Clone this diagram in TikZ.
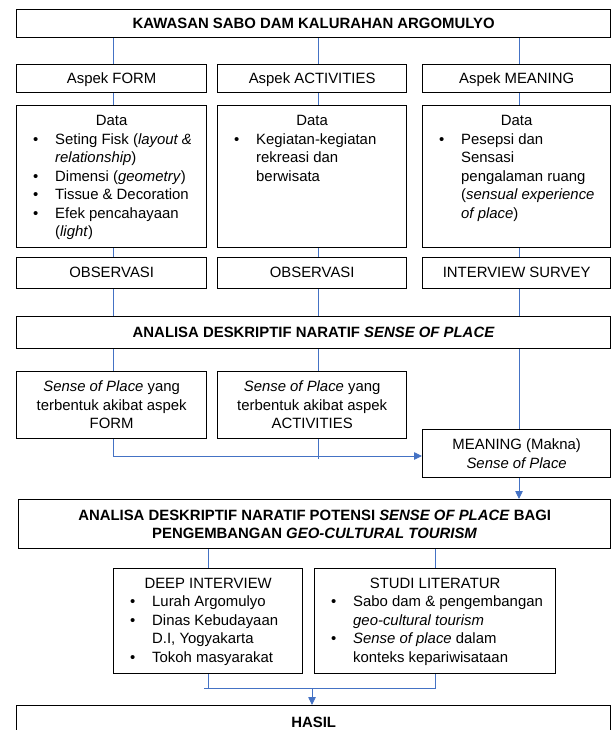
\documentclass[tikz,border=0pt]{standalone}
\usepackage{fontspec}
\setmainfont{Liberation Sans}
\usetikzlibrary{arrows.meta}
\definecolor{lnblue}{RGB}{68,114,196}
\newcommand{\myfs}{\fontsize{14.9}{18.5}\selectfont}
\newcommand{\bitem}{\makebox[22pt][l]{\textbullet}}
\newcommand{\bcont}{\hspace*{22pt}}
\begin{document}
\begin{tikzpicture}[x=1pt,y=1pt,
  box/.style={draw=black, line width=1.3pt, inner sep=0pt, anchor=north west, align=center, font=\myfs},
  one/.style={text height=10.5pt, text depth=1pt},
  txt/.style={inner sep=0pt, font=\myfs},
  conn/.style={draw=lnblue, line width=0.8pt},
  arr/.style={conn, -{Triangle[length=8pt,width=7.5pt]}}]
\useasboundingbox (0,0) rectangle (611,-730);

\coordinate (xa) at (113,0);
\coordinate (xb) at (318,0);
\coordinate (xc) at (519,0);
\coordinate (ay) at (0,-456);
\coordinate (mrg) at (312,-688);

% top
\node[box, one, minimum width=594, minimum height=28, font=\myfs\bfseries] (top) at (16,-9) {KAWASAN SABO DAM KALURAHAN ARGOMULYO};

% aspek
\node[box, one, minimum width=190, minimum height=28] (aF) at (16,-64) {Aspek FORM};
\node[box, one, minimum width=189, minimum height=28] (aA) at (217,-64) {Aspek ACTIVITIES};
\node[box, one, minimum width=188, minimum height=28] (aM) at (422,-64) {Aspek MEANING};

% data
\node[box, minimum width=190, minimum height=142] (dF) at (16,-105) {};
\node[box, minimum width=189, minimum height=142] (dA) at (217,-105) {};
\node[box, minimum width=188, minimum height=142] (dM) at (422,-105) {};
\node[txt, anchor=base] (dFh) at ([yshift=-21pt]dF.north) {Data};
\node[txt, anchor=base] (dAh) at ([yshift=-21pt]dA.north) {Data};
\node[txt, anchor=base] (dMh) at ([yshift=-21pt]dM.north) {Data};
\node[txt, anchor=base west] (dFb) at ([xshift=17pt,yshift=-39.5pt]dF.north west) {\begin{tabular}[t]{@{}l@{}}
\bitem Seting Fisk (\textit{layout \&}\\
\bcont\textit{relationship})\\
\bitem Dimensi (\textit{geometry})\\
\bitem Tissue \& Decoration\\
\bitem Efek pencahayaan\\
\bcont(\textit{light})
\end{tabular}};
\node[txt, anchor=base west] (dAb) at ([xshift=17pt,yshift=-39.5pt]dA.north west) {\begin{tabular}[t]{@{}l@{}}
\bitem Kegiatan-kegiatan\\
\bcont rekreasi dan\\
\bcont berwisata
\end{tabular}};
\node[txt, anchor=base west] (dMb) at ([xshift=17pt,yshift=-39.5pt]dM.north west) {\begin{tabular}[t]{@{}l@{}}
\bitem Pesepsi dan\\
\bcont Sensasi\\
\bcont pengalaman ruang\\
\bcont(\textit{sensual experience}\\
\bcont\textit{of place})
\end{tabular}};

% observasi
\node[box, one, minimum width=190, minimum height=31] (oF) at (16,-257) {OBSERVASI};
\node[box, one, minimum width=189, minimum height=31] (oA) at (217,-257) {OBSERVASI};
\node[box, one, minimum width=188, minimum height=31] (oM) at (422,-257) {INTERVIEW SURVEY};

% analisa
\node[box, one, minimum width=594, minimum height=32, font=\myfs\bfseries] (an) at (16,-316) {ANALISA DESKRIPTIF NARATIF \textit{SENSE OF PLACE}};

% sense boxes
\node[box, minimum width=190, minimum height=67] (sF) at (16,-371) {\textit{Sense of Place} yang\\terbentuk akibat aspek\\FORM};
\node[box, minimum width=189, minimum height=67] (sA) at (217,-371) {\textit{Sense of Place} yang\\terbentuk akibat aspek\\ACTIVITIES};
\node[box, minimum width=188, minimum height=48] (mean) at (422,-429) {MEANING (Makna)\\\textit{Sense of Place}};

% potensi
\node[box, minimum width=592, minimum height=49, font=\myfs\bfseries] (pot) at (18,-499) {ANALISA DESKRIPTIF NARATIF POTENSI \textit{SENSE OF PLACE} BAGI\\PENGEMBANGAN \textit{GEO-CULTURAL TOURISM}};

% deep / studi
\node[box, minimum width=189, minimum height=105] (dI) at (113,-568) {};
\node[box, minimum width=241, minimum height=105] (sL) at (314,-568) {};
\node[txt, anchor=base] (dIh) at ([yshift=-20pt]dI.north) {DEEP INTERVIEW};
\node[txt, anchor=base] (sLh) at ([yshift=-20pt]sL.north) {STUDI LITERATUR};
\node[txt, anchor=base west] (dIb) at ([xshift=17pt,yshift=-38.5pt]dI.north west) {\begin{tabular}[t]{@{}l@{}}
\bitem Lurah Argomulyo\\
\bitem Dinas Kebudayaan\\
\bcont D.I, Yogyakarta\\
\bitem Tokoh masyarakat
\end{tabular}};
\node[txt, anchor=base west] (sLb) at ([xshift=17pt,yshift=-38.5pt]sL.north west) {\begin{tabular}[t]{@{}l@{}}
\bitem Sabo dam \& pengembangan\\
\bcont\textit{geo-cultural tourism}\\
\bitem \textit{Sense of place} dalam\\
\bcont konteks kepariwisataan
\end{tabular}};

% hasil
\node[box, one, minimum width=594, minimum height=35, font=\myfs\bfseries] (hasil) at (16,-705) {HASIL};

% connectors
\draw[conn] (top.south -| xa) -- (aF.north -| xa);
\draw[conn] (top.south -| xb) -- (aA.north -| xb);
\draw[conn] (top.south -| xc) -- (aM.north -| xc);
\draw[conn] (aF.south -| xa) -- (dF.north -| xa);
\draw[conn] (aA.south -| xb) -- (dA.north -| xb);
\draw[conn] (aM.south -| xc) -- (dM.north -| xc);
\draw[conn] (dF.south -| xa) -- (oF.north -| xa);
\draw[conn] (dA.south -| xb) -- (oA.north -| xb);
\draw[conn] (dM.south -| xc) -- (oM.north -| xc);
\draw[conn] (oF.south -| xa) -- (an.north -| xa);
\draw[conn] (oA.south -| xb) -- (an.north -| xb);
\draw[conn] (oM.south -| xc) -- (an.north -| xc);
\draw[conn] (an.south -| xa) -- (sF.north -| xa);
\draw[conn] (an.south -| xb) -- (sA.north -| xb);
\draw[conn] (an.south -| xc) -- (mean.north -| xc);
\draw[arr] (sF.south -| xa) -- (xa |- ay) -- (mean.west |- ay);
\draw[conn] (sA.south -| xb) -- ([yshift=-3pt]xb |- ay);
\draw[arr] (mean.south -| xc) -- (pot.north -| xc);
\draw[conn] (pot.south -| dI.north) -- (dI.north);
\draw[conn] (pot.south -| sL.north) -- (sL.north);
\draw[conn] ([xshift=-4pt]dI.south |- mrg) -- (sL.south |- mrg) -- (sL.south);
\draw[conn] (dI.south) -- (dI.south |- mrg);
\draw[arr] (mrg) -- (mrg |- hasil.north);
\end{tikzpicture}
\end{document}
